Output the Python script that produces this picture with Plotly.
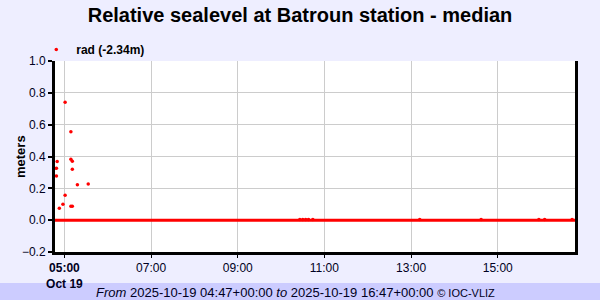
import plotly.graph_objects as go

# ---- data ----
point_times = [
    "2025-10-19 04:49", "2025-10-19 04:49", "2025-10-19 04:50", "2025-10-19 04:53",
    "2025-10-19 04:58", "2025-10-19 05:01", "2025-10-19 05:01", "2025-10-19 05:09",
    "2025-10-19 05:09", "2025-10-19 05:09", "2025-10-19 05:11", "2025-10-19 05:11",
    "2025-10-19 05:11", "2025-10-19 05:18", "2025-10-19 05:33",
    "2025-10-19 10:26", "2025-10-19 10:30", "2025-10-19 10:34", "2025-10-19 10:38",
    "2025-10-19 10:44", "2025-10-19 13:12", "2025-10-19 14:37", "2025-10-19 15:57",
    "2025-10-19 16:05", "2025-10-19 16:43",
]
point_values = [
    0.326, 0.278, 0.368, 0.075,
    0.100, 0.741, 0.157, 0.556,
    0.383, 0.088, 0.370, 0.320,
    0.088, 0.222, 0.228,
    0.004, 0.004, 0.004, 0.004,
    0.004, 0.004, 0.004, 0.004,
    0.004, 0.004,
]
baseline_times = ["2025-10-19 04:47", "2025-10-19 16:47"]
baseline_values = [0.0, 0.0]

x_tick_vals = ["2025-10-19 05:00", "2025-10-19 07:00", "2025-10-19 09:00",
               "2025-10-19 11:00", "2025-10-19 13:00", "2025-10-19 15:00"]
x_tick_text = ["<b>05:00</b><br><b>Oct 19</b>", "07:00", "09:00", "11:00", "13:00", "15:00"]
x_range = ["2025-10-19 04:47", "2025-10-19 16:47"]
y_range = [-0.2, 1.0]

series_name = "<b>rad (-2.34m)</b>"
title_text = "Relative sealevel at Batroun station - median"
y_title = "meters"
footer_text = ("<i>From</i> 2025-10-19 04:47+00:00 <i>to</i> 2025-10-19 16:47+00:00 "
               "<span style='font-size:11px'>© IOC-VLIZ</span>")

RED = "#ff0000"
FONT = "Liberation Sans, Arial, sans-serif"

fig = go.Figure()
fig.add_trace(go.Scatter(
    x=baseline_times, y=baseline_values, mode="lines",
    line=dict(color=RED, width=3), showlegend=False, hoverinfo="skip",
))
fig.add_trace(go.Scatter(
    x=point_times, y=point_values, mode="markers", name=series_name,
    marker=dict(color=RED, size=3.5, symbol="circle"),
))

fig.update_layout(
    width=600, height=300,
    margin=dict(l=55, r=25, t=61, b=48, autoexpand=False),
    paper_bgcolor="#eeeeff",
    plot_bgcolor="#ffffff",
    font=dict(family=FONT, size=12, color="#000022"),
    title=dict(text="<b>" + title_text + "</b>", x=0.5, xanchor="center",
               y=1 - 15 / 300, yanchor="middle",
               font=dict(family=FONT, size=20, color="#000000")),
    showlegend=True,
    legend=dict(x=-0.036, xanchor="left", y=1.06, yanchor="middle",
                orientation="h", bgcolor="rgba(0,0,0,0)",
                font=dict(family=FONT, size=12, color="#000000"),
                itemwidth=30, title=None),
    xaxis=dict(
        type="date", range=x_range, automargin=False,
        tickvals=x_tick_vals, ticktext=x_tick_text,
        showgrid=True, gridcolor="#cccccc", gridwidth=1,
        showline=True, linecolor="#000000", linewidth=3, mirror=False,
        ticks="outside", ticklen=3, tickwidth=1, tickcolor="#000000",
        zeroline=False,
    ),
    yaxis=dict(
        range=y_range, dtick=0.2, tick0=0, tickformat=".1f", automargin=False,
        showgrid=True, gridcolor="#cccccc", gridwidth=1,
        showline=True, linecolor="#000000", linewidth=3, mirror=True,
        ticks="outside", ticklen=4, tickwidth=2, tickcolor="#000000",
        zeroline=False,
    ),
    shapes=[dict(type="rect", xref="paper", yref="paper",
                 x0=-0.11, x1=1.05, y0=-0.26, y1=-0.162,
                 fillcolor="#ccccff", line=dict(width=0), layer="below")],
    annotations=[
        dict(text=footer_text, xref="paper", yref="paper",
             x=(295 - 55) / 520, y=(252 - 292) / 191,
             xanchor="center", yanchor="middle", showarrow=False,
             font=dict(family=FONT, size=13, color="#000022")),
        dict(text="<b>" + y_title + "</b>", xref="paper", yref="paper",
             x=(20 - 55) / 520, y=(252 - 157) / 191, textangle=-90,
             xanchor="center", yanchor="middle", showarrow=False,
             font=dict(family=FONT, size=13, color="#000000")),
    ],
)

fig.write_html("out.html")
